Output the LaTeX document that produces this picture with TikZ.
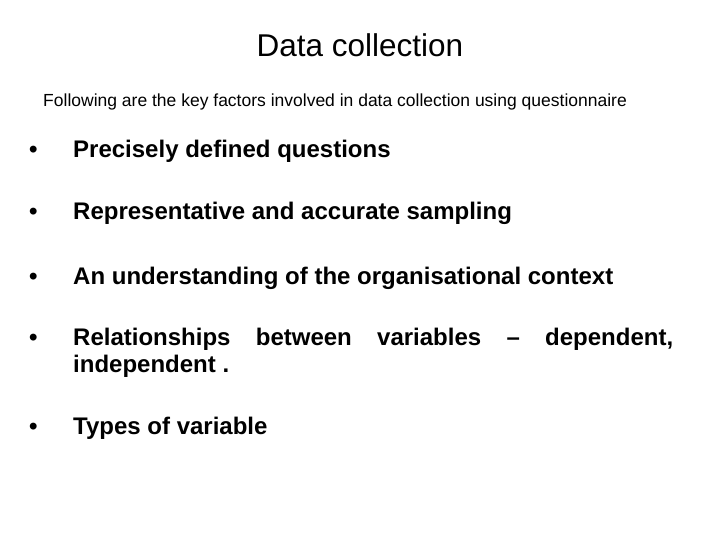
\documentclass[tikz,border=0pt]{standalone}
\usepackage{fontspec}
\setmainfont{Liberation Sans}
\begin{document}
\begin{tikzpicture}[x=1pt,y=-1pt,
  bul/.style={anchor=base west,inner sep=0pt,font=\fontsize{24}{27}\selectfont\bfseries},
  dot/.style={anchor=base west,inner sep=0pt,font=\fontsize{24}{27}\selectfont\bfseries}]
\useasboundingbox (0,0) rectangle (720,540);
\node[anchor=base,inner sep=0pt,font=\fontsize{31.5}{36}\selectfont] (title) at (360,57) {Data collection};
\node[anchor=base west,inner sep=0pt,font=\fontsize{17.5}{20}\selectfont] (sub) at (43,107) {Following are the key factors involved in data collection using questionnaire};
\node[dot] (d1) at (29,158) {•};
\node[bul] (b1) at (73,158) {Precisely defined questions};
\node[dot] (d2) at (29,220) {•};
\node[bul] (b2) at (73,220) {Representative and accurate sampling};
\node[dot] (d3) at (29,284) {•};
\node[bul] (b3) at (73,284) {An understanding of the organisational context};
\node[dot] (d4) at (29,345) {•};
\node[bul,text width=600pt,align=justify,anchor=base west] (b4) at (73,345) {Relationships between variables – dependent, \mbox{independent} .};
\node[dot] (d5) at (29,434) {•};
\node[bul] (b5) at (73,434) {Types of variable};
\end{tikzpicture}
\end{document}
